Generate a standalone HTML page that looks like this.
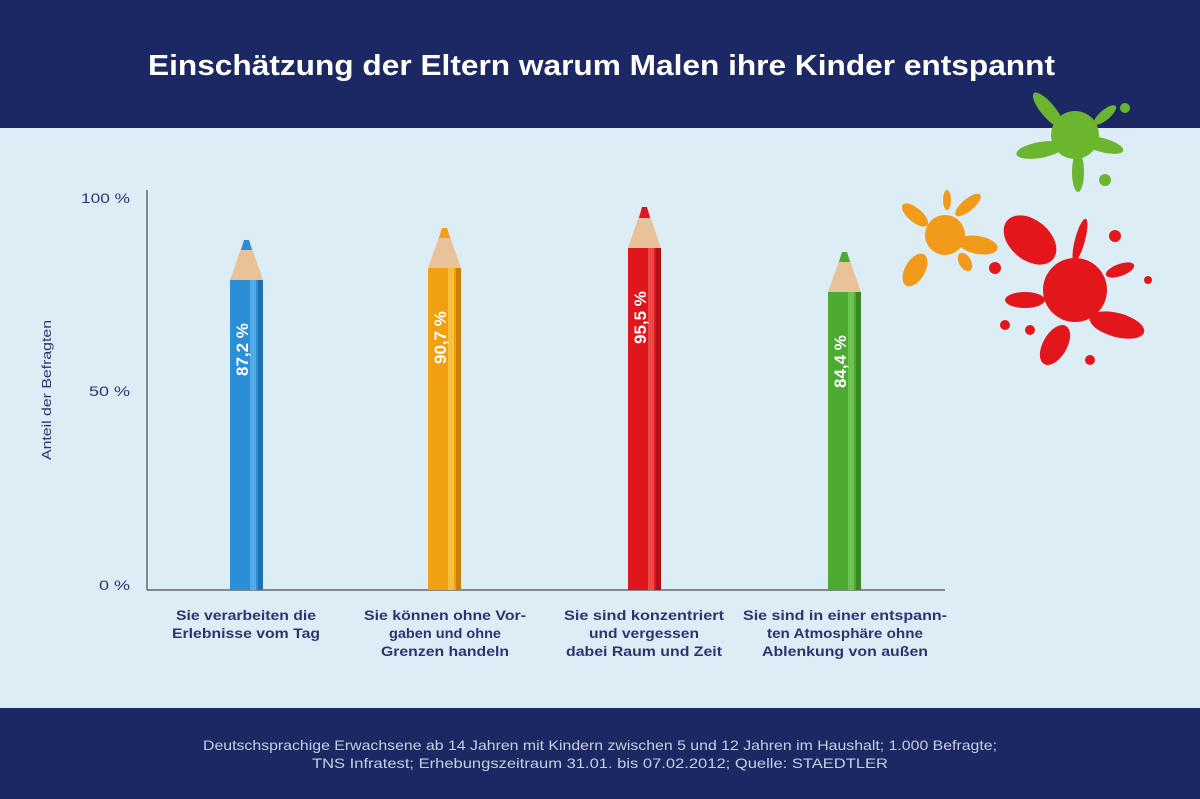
<!DOCTYPE html>
<html><head><meta charset="utf-8"><style>
body{margin:0;width:1200px;height:799px;overflow:hidden;font-family:"Liberation Sans",Arial,sans-serif;background:#dcedf6}
</style></head><body>
<svg width="1200" height="799" xmlns="http://www.w3.org/2000/svg" style="position:absolute;left:0;top:0">
<rect x="0" y="0" width="1200" height="128" fill="#1b2863"/>
<rect x="0" y="128" width="1200" height="580" fill="#dcedf6"/>
<rect x="0" y="708" width="1200" height="91" fill="#1b2863"/>
<text x="148" y="75" textLength="907" lengthAdjust="spacingAndGlyphs" fill="#fff" font-size="29" font-weight="bold">Einschätzung der Eltern warum Malen ihre Kinder entspannt</text>
<text x="203" y="750" textLength="794" lengthAdjust="spacingAndGlyphs" fill="#c8cde0" font-size="14">Deutschsprachige Erwachsene ab 14 Jahren mit Kindern zwischen 5 und 12 Jahren im Haushalt; 1.000 Befragte;</text>
<text x="600" y="768" text-anchor="middle" fill="#c8cde0" font-size="14" textLength="576" lengthAdjust="spacingAndGlyphs">TNS Infratest; Erhebungszeitraum 31.01. bis 07.02.2012; Quelle: STAEDTLER</text>
<line x1="147" y1="190" x2="147" y2="590" stroke="#666" stroke-width="1.5"/>
<line x1="147" y1="590" x2="945" y2="590" stroke="#666" stroke-width="1.5"/>
<g fill="#2a3570" font-size="14">
<text x="81" y="203" textLength="49" lengthAdjust="spacingAndGlyphs">100 %</text>
<text x="89" y="396" textLength="41" lengthAdjust="spacingAndGlyphs">50 %</text>
<text x="99" y="590" textLength="31" lengthAdjust="spacingAndGlyphs">0 %</text>
</g>
<text transform="translate(51,460) rotate(-90)" font-size="13" fill="#2a3570" textLength="140" lengthAdjust="spacingAndGlyphs">Anteil der Befragten</text>
<g font-weight="bold" fill="#2a3570" font-size="14" text-anchor="middle">
<text x="246" y="620" textLength="140" lengthAdjust="spacingAndGlyphs">Sie verarbeiten die</text><text x="246" y="638" textLength="148" lengthAdjust="spacingAndGlyphs">Erlebnisse vom Tag</text>
<text x="445" y="620" textLength="162" lengthAdjust="spacingAndGlyphs">Sie können ohne Vor-</text><text x="445" y="638" textLength="112" lengthAdjust="spacingAndGlyphs">gaben und ohne</text><text x="445" y="656" textLength="128" lengthAdjust="spacingAndGlyphs">Grenzen handeln</text>
<text x="644" y="620" textLength="160" lengthAdjust="spacingAndGlyphs">Sie sind konzentriert</text><text x="644" y="638" textLength="110" lengthAdjust="spacingAndGlyphs">und vergessen</text><text x="644" y="656" textLength="156" lengthAdjust="spacingAndGlyphs">dabei Raum und Zeit</text>
<text x="845" y="620" textLength="204" lengthAdjust="spacingAndGlyphs">Sie sind in einer entspann-</text><text x="845" y="638" textLength="156" lengthAdjust="spacingAndGlyphs">ten Atmosphäre ohne</text><text x="845" y="656" textLength="166" lengthAdjust="spacingAndGlyphs">Ablenkung von außen</text>
</g>
<g>
<polygon points="230,280 263,280 249,240 244,240" fill="#e9c29a"/><polygon points="241,250 252,250 249,240 244,240" fill="#2a8fd6"/>
<rect x="230" y="280" width="33" height="310" fill="#2a8fd6"/><rect x="250" y="280" width="6" height="310" fill="#52aae6"/><rect x="258" y="280" width="5" height="310" fill="#1f70b0"/>
<text transform="translate(248,376) rotate(-90)" fill="#fff" font-size="17" font-weight="bold">87,2 %</text>
<polygon points="428,268 461,268 447,228 442,228" fill="#e9c29a"/><polygon points="439,238 450,238 447,228 442,228" fill="#f0a010"/>
<rect x="428" y="268" width="33" height="322" fill="#f0a010"/><rect x="448" y="268" width="6" height="322" fill="#f7bf40"/><rect x="456" y="268" width="5" height="322" fill="#c98008"/>
<text transform="translate(446,364) rotate(-90)" fill="#fff" font-size="17" font-weight="bold">90,7 %</text>
<polygon points="628,248 661,248 647,207 642,207" fill="#e9c29a"/><polygon points="639,218 650,218 647,207 642,207" fill="#e0161e"/>
<rect x="628" y="248" width="33" height="342" fill="#e0161e"/><rect x="648" y="248" width="6" height="342" fill="#ee4a4a"/><rect x="656" y="248" width="5" height="342" fill="#b01016"/>
<text transform="translate(646,344) rotate(-90)" fill="#fff" font-size="17" font-weight="bold">95,5 %</text>
<polygon points="828,292 861,292 847,252 842,252" fill="#e9c29a"/><polygon points="839,262 850,262 847,252 842,252" fill="#4caa32"/>
<rect x="828" y="292" width="33" height="298" fill="#4caa32"/><rect x="848" y="292" width="6" height="298" fill="#6cc450"/><rect x="856" y="292" width="5" height="298" fill="#3a8826"/>
<text transform="translate(846,388) rotate(-90)" fill="#fff" font-size="17" font-weight="bold">84,4 %</text>
</g>
<g fill="#6cb52e">
<circle cx="1075" cy="135" r="24"/>
<ellipse cx="1048" cy="110" rx="22" ry="7" transform="rotate(50 1048 110)"/>
<ellipse cx="1040" cy="150" rx="24" ry="8" transform="rotate(-10 1040 150)"/>
<ellipse cx="1102" cy="145" rx="22" ry="7" transform="rotate(15 1102 145)"/>
<ellipse cx="1078" cy="172" rx="6" ry="20"/>
<ellipse cx="1105" cy="115" rx="14" ry="5" transform="rotate(-40 1105 115)"/>
<circle cx="1105" cy="180" r="6"/><circle cx="1125" cy="108" r="5"/>
</g>
<g fill="#f29a1a">
<circle cx="945" cy="235" r="20"/>
<ellipse cx="915" cy="215" rx="16" ry="7" transform="rotate(40 915 215)"/>
<ellipse cx="978" cy="245" rx="20" ry="9" transform="rotate(10 978 245)"/>
<ellipse cx="915" cy="270" rx="10" ry="18" transform="rotate(30 915 270)"/>
<ellipse cx="968" cy="205" rx="16" ry="6" transform="rotate(-40 968 205)"/>
<ellipse cx="947" cy="200" rx="4" ry="10"/>
<ellipse cx="965" cy="262" rx="6" ry="10" transform="rotate(-30 965 262)"/>
</g>
<g fill="#e3161c">
<circle cx="1075" cy="290" r="32"/>
<ellipse cx="1030" cy="240" rx="30" ry="20" transform="rotate(40 1030 240)"/>
<ellipse cx="1117" cy="325" rx="28" ry="12" transform="rotate(15 1117 325)"/>
<ellipse cx="1055" cy="345" rx="12" ry="22" transform="rotate(30 1055 345)"/>
<ellipse cx="1025" cy="300" rx="20" ry="8"/>
<ellipse cx="1080" cy="240" rx="5" ry="22" transform="rotate(15 1080 240)"/>
<ellipse cx="1120" cy="270" rx="15" ry="6" transform="rotate(-20 1120 270)"/>
<circle cx="995" cy="268" r="6"/><circle cx="1115" cy="236" r="6"/><circle cx="1005" cy="325" r="5"/><circle cx="1030" cy="330" r="5"/><circle cx="1148" cy="280" r="4"/><circle cx="1090" cy="360" r="5"/>
</g>
</svg>
</body></html>
